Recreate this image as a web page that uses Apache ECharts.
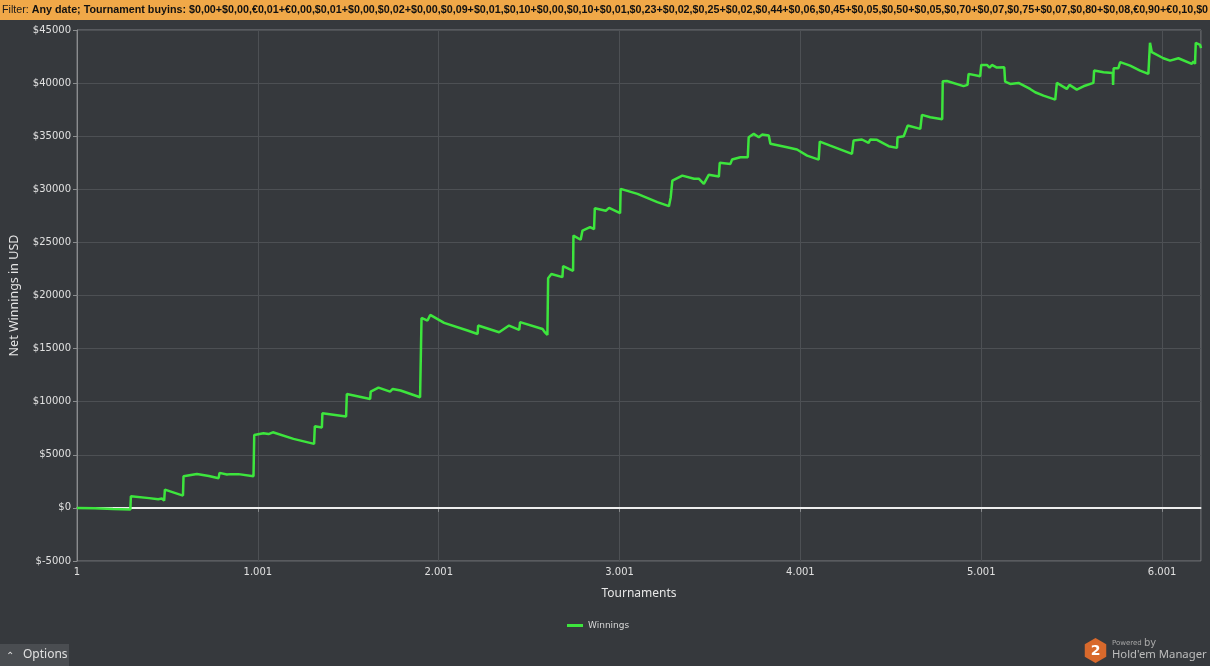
<!DOCTYPE html>
<html><head><meta charset="utf-8">
<script src="https://cdn.jsdelivr.net/npm/echarts@6/dist/echarts.min.js"></script>
<style>html,body{margin:0;padding:0;background:#36393d;}#c{width:1210px;height:666px;}</style>
</head><body><div id="c"></div>
<script>
const filterLabel = 'Filter: ';
const filterText = 'Any date; Tournament buyins: $0,00+$0,00,€0,01+€0,00,$0,01+$0,00,$0,02+$0,00,$0,09+$0,01,$0,10+$0,00,$0,10+$0,01,$0,23+$0,02,$0,25+$0,02,$0,44+$0,06,$0,45+$0,05,$0,50+$0,05,$0,70+$0,07,$0,75+$0,07,$0,80+$0,08,€0,90+€0,10,$0';
const seriesName = 'Winnings';
const xAxisTitle = 'Tournaments';
const yAxisTitle = 'Net Winnings in USD';

const tournaments = [1,100,200,296,299,400,450,470,483,487,587,590,664,730,784,789,830,850,894,977,
 981,1032,1060,1084,1198,1312,1316,1355,1358,1489,1493,1622,1625,1668,1732,1747,1790,1898,1902,
 1906,1939,1954,2031,2160,2216,2219,2335,2390,2446,2451,2575,2590,2602,
 2606,2624,2685,2689,2744,2746,2786,2796,2838,2860,2864,2925,2943,3004,
 3007,3100,3210,3274,3284,3293,3348,3413,3439,3467,3494,3550,3555,3614,3623,3669,3710,
 3715,3743,3771,3789,3826,3835,3927,3982,4038,4102,4108,4166,4286,4295,4341,4378,4387,4424,4489,4535,
 4538,4572,4594,4664,4673,4719,4785,4788,4811,4903,4912,4925,4931,4995,5001,5032,5047,5060,5087,5128,
 5133,5161,5207,5271,5299,5345,5410,5419,5474,5489,5529,5566,5621,5625,5677,5728,5730,5733,5759,5769,
 5824,5879,5925,5934,5944,6008,6045,6091,6165,6174,6183,6187,6211,6216];
const winnings = [0,-40,-110,-160,1100,920,820,880,690,1720,1160,2980,3200,3000,2800,3300,3150,3180,3180,2980,
 6870,7030,6950,7120,6500,6030,7690,7570,8910,8600,10730,10260,10950,11330,10950,11200,11050,10420,10420,
 17890,17640,18170,17420,16700,16380,17170,16540,17170,16760,17490,16850,16500,16290,
 21630,22030,21730,22760,22320,25640,25250,26110,26430,26240,28220,27980,28250,27750,
 30040,29570,28790,28410,29260,30820,31290,31000,31000,30510,31360,31200,32490,32390,32800,33020,33020,
 34900,35220,34900,35150,35060,34280,33960,33750,33170,32800,34490,34110,33330,34590,34690,34370,34690,34660,34060,33900,
 34900,35000,36000,35690,37010,36790,36600,40170,40200,39710,39830,39830,40870,40650,41710,41710,41450,41710,41460,41490,
 40140,39920,40020,39450,39140,38820,38450,40020,39450,39830,39390,39700,40020,41180,41020,40960,39830,41400,41400,41970,
 41650,41180,40870,43790,42910,42340,42120,42340,41810,42030,41810,43790,43600,43300];

const yTicks = {min: -5000, max: 45000, step: 5000};
const xTicks = {min: 1, max: 6216, step: 1000};

const data = tournaments.map((t, i) => [t, winnings[i]]);
const chart = echarts.init(document.getElementById('c'), null, {renderer: 'canvas'});
const fmtX = v => {
  if (v === xTicks.max) return '';
  if (v < 1000) return String(v);
  return Math.floor(v / 1000) + '.' + String(v % 1000).padStart(3, '0');
};
const hexPts = [];
for (let k = 0; k < 6; k++) {
  const a = Math.PI / 180 * (60 * k - 90);
  hexPts.push([1095.5 + 12.4 * Math.cos(a), 650.5 + 12.4 * Math.sin(a)]);
}
const bannerFont = "'Liberation Sans'";
chart.setOption({
  backgroundColor: '#36393d',
  animation: false,
  grid: {left: 76, right: 9, top: 30, bottom: 105, show: true, borderColor: '#7d7f82', borderWidth: 1, backgroundColor: 'transparent'},
  legend: {
    data: [seriesName], left: 562, top: 616, itemWidth: 16, itemHeight: 3, icon: 'rect', itemGap: 5,
    textStyle: {color: '#d8d8d8', fontSize: 9, fontFamily: 'DejaVu Sans'}
  },
  xAxis: {
    type: 'value', min: xTicks.min, max: xTicks.max, interval: xTicks.step,
    name: xAxisTitle, nameLocation: 'middle', nameGap: 27,
    nameTextStyle: {color: '#e6e6e6', fontSize: 12, fontFamily: 'Noto Sans'},
    axisLine: {show: true, lineStyle: {color: '#8a8c8e', width: 2}},
    axisTick: {show: true, length: 4, lineStyle: {color: '#8a8c8e'}},
    axisLabel: {color: '#e0e0e0', fontSize: 10, fontFamily: 'DejaVu Sans', margin: 6, formatter: fmtX, showMaxLabel: false},
    splitLine: {show: true, lineStyle: {color: '#4d5054', width: 1}}
  },
  yAxis: {
    type: 'value', min: yTicks.min, max: yTicks.max, interval: yTicks.step,
    name: yAxisTitle, nameLocation: 'middle', nameGap: 56, nameRotate: 90,
    nameTextStyle: {color: '#e6e6e6', fontSize: 12.5, fontFamily: 'Noto Sans'},
    axisLine: {show: true, lineStyle: {color: '#8a8c8e', width: 1}},
    axisTick: {show: true, length: 4, lineStyle: {color: '#8a8c8e'}},
    axisLabel: {color: '#e0e0e0', fontSize: 10, fontFamily: 'DejaVu Sans', margin: 6, formatter: v => '$' + v},
    splitLine: {show: true, lineStyle: {color: '#4d5054', width: 1}}
  },
  series: [
    {
      type: 'line', name: 'zero', data: [], silent: true,
      markLine: {silent: true, symbol: 'none', label: {show: false}, animation: false,
        lineStyle: {color: '#eeeeee', width: 2, type: 'solid'}, data: [{yAxis: 0}]}
    },
    {
      type: 'line', name: seriesName, data: data, showSymbol: false, symbol: 'none',
      lineStyle: {color: '#3de53d', width: 2.5}, itemStyle: {color: '#3de53d'}, z: 5
    }
  ],
  graphic: [
    {type: 'rect', left: 0, top: 0, shape: {width: 1210, height: 20}, style: {fill: '#f0a848'}, z: 10},
    {type: 'text', x: 2, y: 10, z: 11, scaleX: 0.933, style: {
      text: '{a|' + filterLabel + '}{b|' + filterText + '}', verticalAlign: 'middle',
      rich: {
        a: {fontSize: 11.5, fontFamily: bannerFont, fill: '#1a1a1a', fontWeight: 'normal'},
        b: {fontSize: 11.5, fontFamily: bannerFont, fill: '#111111', fontWeight: 'bold'}
      }}},
    {type: 'rect', left: 0, top: 644, shape: {width: 69, height: 22}, style: {fill: '#4a4d51'}, z: 10},
    {type: 'text', x: 6, y: 656, z: 11, style: {text: '⌃', fill: '#dddddd', fontSize: 10, fontFamily: 'DejaVu Sans', verticalAlign: 'middle'}},
    {type: 'text', x: 23, y: 655, z: 11, style: {text: 'Options', fill: '#e0e0e0', fontSize: 12, fontFamily: 'Noto Sans', verticalAlign: 'middle'}},
    {type: 'polygon', z: 10, shape: {points: hexPts}, style: {fill: '#d8692c'}},
    {type: 'text', x: 1095.5, y: 651, z: 11, style: {text: '2', fill: '#ffffff', fontSize: 14, fontWeight: 'bold', fontFamily: 'DejaVu Sans', align: 'center', verticalAlign: 'middle'}},
    {type: 'text', x: 1112, y: 643, z: 11, style: {text: '{p|Powered }{q|by}', verticalAlign: 'middle',
      rich: {p: {fontSize: 7, fill: '#a8a8a8', fontFamily: 'DejaVu Sans'}, q: {fontSize: 10, fill: '#a8a8a8', fontFamily: 'DejaVu Sans'}}}},
    {type: 'text', x: 1112, y: 655, z: 11, style: {text: "Hold'em Manager", fill: '#bdbdbd', fontSize: 11.3, fontFamily: 'Noto Sans', verticalAlign: 'middle'}}
  ]
});
</script></body></html>
